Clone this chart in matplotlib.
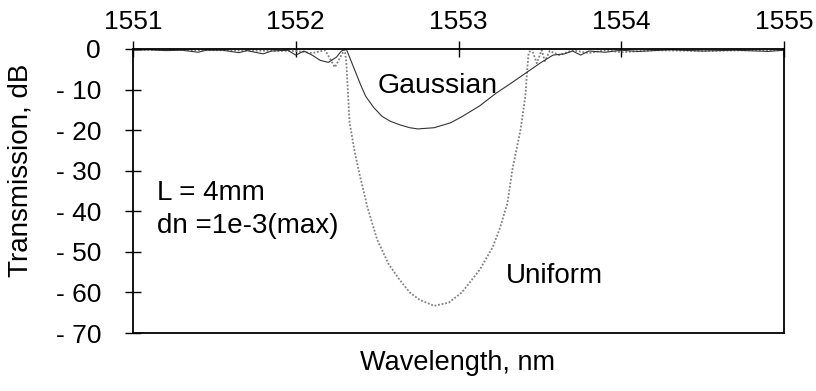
import matplotlib
matplotlib.use("Agg")
import matplotlib.pyplot as plt

plt.rcParams['font.family'] = ['Liberation Sans', 'DejaVu Sans']

# ---- data ----
gauss_wl = [1551.0, 1551.1, 1551.2, 1551.3, 1551.4, 1551.45, 1551.55, 1551.65, 1551.7,
            1551.8, 1551.85, 1551.95, 1552.0, 1552.05, 1552.1, 1552.15, 1552.2, 1552.25,
            1552.28, 1552.31, 1552.34, 1552.37, 1552.40, 1552.43, 1552.48, 1552.53,
            1552.58, 1552.64, 1552.70, 1552.75, 1552.85, 1552.95, 1553.02, 1553.13,
            1553.23, 1553.32, 1553.41, 1553.50, 1553.58, 1553.65, 1553.70, 1553.75,
            1553.80, 1553.90, 1554.0, 1554.1, 1554.3, 1554.5, 1554.7, 1554.9, 1555.0]
gauss_db = [-0.3, -0.2, -0.4, -0.3, -0.8, -0.3, -0.3, -0.9, -0.4,
            -1.2, -0.5, -0.3, -1.5, -0.5, -1.5, -2.8, -3.3, -2.0,
            -0.5, 0.0, -3.0, -6.0, -9.0, -11.7, -14.5, -16.6,
            -17.8, -18.7, -19.4, -19.7, -19.4, -18.2, -16.7, -14.0,
            -10.9, -8.5, -6.0, -3.5, -1.5, -1.2, -0.5, -1.5,
            -0.5, -0.8, -0.3, -0.6, -0.2, -0.5, -0.3, -0.6, -0.3]

unif_wl = [1551.0, 1551.5, 1552.0, 1552.1, 1552.18, 1552.24, 1552.28, 1552.30,
           1552.31, 1552.33, 1552.36, 1552.39, 1552.44, 1552.50, 1552.57, 1552.64,
           1552.70, 1552.76, 1552.85, 1552.94, 1553.02, 1553.13, 1553.21, 1553.25,
           1553.30, 1553.33, 1553.38, 1553.41, 1553.42, 1553.43, 1553.45, 1553.48,
           1553.51, 1553.53, 1553.56, 1553.62, 1553.70, 1553.80, 1553.90, 1554.0,
           1554.2, 1554.5, 1554.8, 1555.0]
unif_db = [-0.2, -0.3, -0.5, -1.0, -0.3, -4.5, -1.5, -0.2,
           -3.0, -18.0, -25.0, -30.6, -39.0, -47.0, -53.0, -57.0,
           -60.0, -61.8, -63.3, -62.5, -60.0, -54.4, -48.8, -44.6,
           -38.0, -29.8, -20.0, -11.7, -6.0, -1.0, 0.0, -3.5,
           -0.3, -3.0, -0.5, -1.5, -0.3, -1.0, -0.3, -0.8,
           -0.3, -0.5, -0.3, -0.3]

x_ticks = [1551, 1552, 1553, 1554, 1555]
y_ticks = [0, -10, -20, -30, -40, -50, -60, -70]
y_tick_labels = ['0', '- 10', '- 20', '- 30', '- 40', '- 50', '- 60', '- 70']

fig = plt.figure(figsize=(8.16, 3.91), dpi=100)
ax = fig.add_axes([0.163, 0.1483, 0.798, 0.7264])

ax.plot(unif_wl, unif_db, color='#808080', lw=1.3, linestyle=(0, (1, 1)))
ax.plot(gauss_wl, gauss_db, color='#333333', lw=0.8)

ax.set_xlim(1551, 1555)
ax.set_ylim(-70, 0)
ax.xaxis.tick_top()
ax.set_xticks(x_ticks)
ax.set_xticklabels([str(t) for t in x_ticks])
ax.set_yticks(y_ticks)
ax.set_yticklabels(y_tick_labels)
ax.tick_params(axis='both', direction='inout', length=12, width=1.0, labelsize=19)
ax.tick_params(axis='y', pad=17)
ax.tick_params(axis='x', pad=5)
for s in ax.spines.values():
    s.set_linewidth(1.3)

fig.text(21 / 816, 1 - 170 / 391, 'Transmission, dB', fontsize=20, rotation=90,
         ha='center', va='center')
fig.text(458 / 816, 1 - 370 / 391, 'Wavelength, nm', fontsize=19.5, ha='center', va='baseline')

ax.text(1552.50, -10.8, 'Gaussian', fontsize=20.5, va='baseline', ha='left')
ax.text(1553.29, -57.6, 'Uniform', fontsize=20, va='baseline', ha='left')
ax.text(1551.15, -37.2, 'L = 4mm', fontsize=20, va='baseline', ha='left')
ax.text(1551.15, -45.3, 'dn =1e-3(max)', fontsize=20, va='baseline', ha='left')

fig.savefig('out.png', dpi=100)
